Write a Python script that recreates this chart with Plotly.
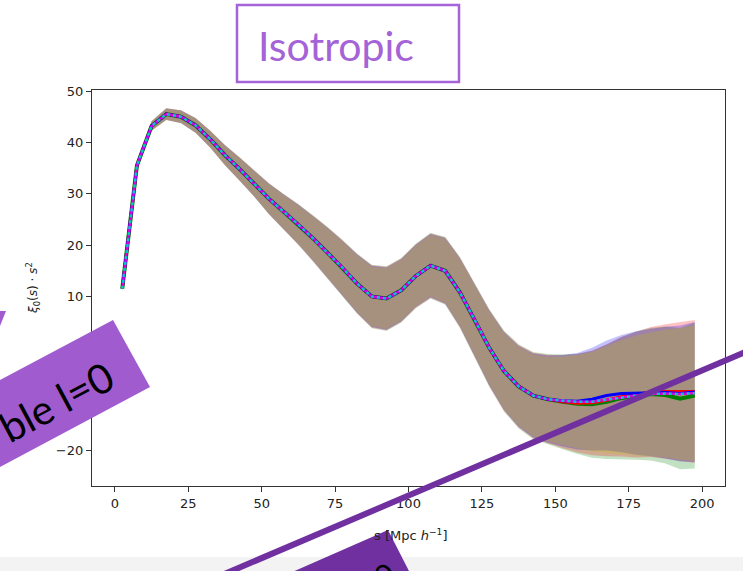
import plotly.graph_objects as go

# ---------------- data ----------------
s_vals = [2.5, 7.5, 12.5, 17.5, 22.5, 27.5, 32.5, 37.5, 42.5, 47.5,
          52.5, 57.5, 62.5, 67.5, 72.5, 77.5, 82.5, 87.5, 92.5, 97.5,
          102.5, 107.5, 112.5, 117.5, 122.5, 127.5, 132.5, 137.5, 142.5, 147.5,
          152.5, 157.5, 162.5, 167.5, 172.5, 177.5, 182.5, 187.5, 192.5, 197.5]

xi_mean = [11.5, 35.5, 43.2, 45.5, 45.0, 43.3, 40.6, 37.5, 34.8, 32.0,
           29.0, 26.5, 24.0, 21.3, 18.5, 15.6, 12.5, 10.0, 9.6, 11.2,
           14.0, 16.0, 15.0, 10.8, 5.5, 0.0, -4.5, -7.5, -9.3, -10.0,
           -10.3, -10.5, -10.5, -10.1, -9.6, -9.3, -9.0, -8.9, -9.0, -8.8]

xi_halfwidth = [0.4, 0.6, 0.9, 1.1, 1.2, 1.4, 1.6, 1.9, 2.2, 2.5,
                2.9, 3.3, 3.8, 4.3, 4.8, 5.2, 5.6, 5.9, 6.0, 6.0,
                6.0, 6.1, 6.3, 6.6, 6.9, 7.2, 7.5, 7.8, 8.1, 8.4,
                8.8, 9.3, 9.9, 10.6, 11.3, 11.9, 12.3, 12.7, 13.1, 13.5]

# per-realisation deviations of the mean (tail only differs visibly)
red_offset = [0.0] * 28 + [0.0, 0.0, -0.2, -0.3, -0.2, -0.1, 0.1, 0.2, 0.4, 0.4, 0.5, 0.3]
blue_offset = [0.0] * 28 + [0.0, 0.0, 0.0, 0.1, 0.5, 0.8, 0.7, 0.5, 0.3, 0.2, 0.1, 0.2]
green_offset = [0.0] * 28 + [0.0, 0.0, -0.2, -0.4, -0.5, -0.4, -0.2, 0.0, 0.0, -0.3, -0.9, -0.5]
yellow_offset = [0.0] * 40

# relative spread of each realisation's error band
band_scale = {"green": 1.05, "red": 1.03, "blue": 1.01, "yellow": 0.98}

x_ticks = [0, 25, 50, 75, 100, 125, 150, 175, 200]
y_ticks = [-20, -10, 0, 10, 20, 30, 40, 50]

# ---------------- figure ----------------
W, H = 743, 571
L, R, T, B = 92, 725, 90, 486


def px(x):
    return (x - L) / (R - L)


def py(y):
    return (B - y) / (B - T)


fig = go.Figure()

offsets = {"green": green_offset, "red": red_offset, "blue": blue_offset, "yellow": yellow_offset}
fills = {"green": "rgba(0,128,0,0.24)", "red": "rgba(255,0,0,0.24)",
         "blue": "rgba(0,0,255,0.24)", "yellow": "rgba(191,191,0,0.26)"}

for name in ["green", "red", "blue", "yellow"]:
    m = [a + b for a, b in zip(xi_mean, offsets[name])]
    k = band_scale[name]
    lo = [a - k * h for a, h in zip(m, xi_halfwidth)]
    hi = [a + k * h for a, h in zip(m, xi_halfwidth)]
    fig.add_trace(go.Scatter(x=s_vals, y=lo, mode="lines", line=dict(width=0),
                             showlegend=False, hoverinfo="skip"))
    fig.add_trace(go.Scatter(x=s_vals, y=hi, mode="lines", line=dict(width=0),
                             fill="tonexty", fillcolor=fills[name],
                             showlegend=False, hoverinfo="skip"))

line_specs = [("green", "#008000", 4, "solid"),
              ("red", "#ff0000", 3, "solid"),
              ("blue", "#0000ff", 3, "solid")]
for name, col, w, dash in line_specs:
    m = [a + b for a, b in zip(xi_mean, offsets[name])]
    fig.add_trace(go.Scatter(x=s_vals, y=m, mode="lines", line=dict(color=col, width=w, dash=dash),
                             showlegend=False))
fig.add_trace(go.Scatter(x=s_vals, y=xi_mean, mode="lines",
                         line=dict(color="#dd00dd", width=2.5), showlegend=False))
fig.add_trace(go.Scatter(x=s_vals, y=xi_mean, mode="lines",
                         line=dict(color="#00c8c8", width=2.5, dash="dot"), showlegend=False))

axis_common = dict(showline=True, linecolor="#333", linewidth=1.2, mirror=True,
                   ticks="outside", ticklen=5, tickcolor="#333", showgrid=False,
                   zeroline=False, tickfont=dict(family="DejaVu Sans", size=13, color="#222"))

fig.update_xaxes(range=[-7.8, 207.8], tickvals=x_ticks, **axis_common)
fig.update_yaxes(range=[-26.9, 50.2], tickvals=y_ticks, **axis_common)

shapes = []
# light strip at the bottom of the slide
shapes.append(dict(type="rect", xref="paper", yref="paper", x0=px(0), x1=px(W),
                   y0=py(571), y1=py(557), fillcolor="#f3f3f3", line=dict(width=0), layer="below"))
# Isotropic box
shapes.append(dict(type="rect", xref="paper", yref="paper", x0=px(237), x1=px(459),
                   y0=py(82), y1=py(5), fillcolor="white", line=dict(color="#a463d6", width=2.5)))


def path(points):
    return "M " + " L ".join(f"{px(a):.5f},{py(b):.5f}" for a, b in points) + " Z"


# rotated "Monopole" label box
shapes.append(dict(type="path", xref="paper", yref="paper",
                   path=path([(0, 380), (113, 320), (150, 387), (0, 467)]),
                   fillcolor="#a05ccf", line=dict(width=0)))
shapes.append(dict(type="path", xref="paper", yref="paper",
                   path=path([(0, 311), (6, 311), (0, 326)]),
                   fillcolor="#a05ccf", line=dict(width=0)))
# diagonal line
shapes.append(dict(type="line", xref="paper", yref="paper",
                   x0=px(215), y0=py(578), x1=px(750), y1=py(350),
                   line=dict(color="#7030a0", width=6)))
# bottom purple wedge
shapes.append(dict(type="path", xref="paper", yref="paper",
                   path=path([(290, 573), (388, 530), (410, 573)]),
                   fillcolor="#7030a0", line=dict(width=0)))

annotations = [
    dict(text="Isotropic", x=px(336), y=py(46), xref="paper", yref="paper",
         xanchor="center", yanchor="middle",
         showarrow=False, font=dict(family="Lato", size=41, color="#a463d6")),
    dict(text="ble l=0", x=px(56), y=py(401), xref="paper", yref="paper",
         xanchor="center", yanchor="middle",
         showarrow=False, textangle=-28, font=dict(family="Lato", size=41, color="black")),
    dict(text="0", x=px(384), y=py(575), xref="paper", yref="paper",
         xanchor="center", yanchor="middle",
         showarrow=False, textangle=-25, font=dict(family="Lato", size=32, color="black")),
    dict(text="s [Mpc <i>h</i><sup>−1</sup>]", x=px(410), y=py(535), xref="paper", yref="paper",
         xanchor="center", yanchor="middle",
         showarrow=False, font=dict(family="DejaVu Sans", size=13, color="#222")),
    dict(text="<i>ξ</i><sub>0</sub>(<i>s</i>) · <i>s</i><sup>2</sup>", x=px(33), y=py(288),
         xref="paper", yref="paper", textangle=-90, xanchor="center", yanchor="middle",
         showarrow=False, font=dict(family="DejaVu Sans", size=12, color="#222")),
]

fig.update_layout(width=W, height=H, margin=dict(l=L, r=W - R, t=T, b=H - B),
                  paper_bgcolor="white", plot_bgcolor="white",
                  shapes=shapes, annotations=annotations, showlegend=False)

fig.write_html("out.html")
